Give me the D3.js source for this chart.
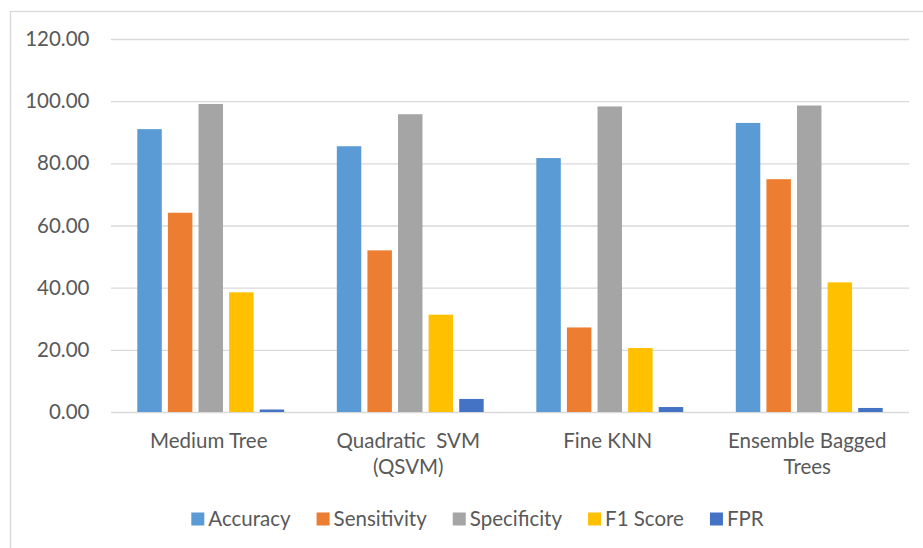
<!DOCTYPE html>
<html>
<head>
<meta charset="utf-8">
<script src="https://cdn.jsdelivr.net/npm/d3@7/dist/d3.min.js"></script>
<style>
  html, body { margin: 0; padding: 0; background: #ffffff; }
  svg { display: block; }
  text { font-family: Lato, "Open Sans", sans-serif; fill: #595959; }
</style>
</head>
<body>
<svg id="chart" width="923" height="548"></svg>
<script>
// Classifier names (each entry is one line of the wrapped axis label)
const categories = [
  ["Medium Tree"],
  ["Quadratic  SVM", "(QSVM)"],
  ["Fine KNN"],
  ["Ensemble Bagged", "Trees"]
];
const seriesNames = ["Accuracy", "Sensitivity", "Specificity", "F1 Score", "FPR"];
const seriesColors = ["#5B9BD5", "#ED7D31", "#A5A5A5", "#FFC000", "#4472C4"];

// Metric values (%) per classifier, in category order
const accuracy    = [91.0, 85.5, 81.7, 93.0];
const sensitivity = [64.1, 52.0, 27.2, 74.9];
const specificity = [99.1, 95.8, 98.3, 98.6];
const f1Score     = [38.5, 31.3, 20.6, 41.7];
const fpr         = [0.8, 4.2, 1.6, 1.3];

const yTicks = [0, 20, 40, 60, 80, 100, 120];

const seriesValues = [accuracy, sensitivity, specificity, f1Score, fpr];
const FONT_SIZE = "20.5px";

const svg = d3.select("#chart");

// Chart area frame
svg.append("rect")
  .attr("x", 10.5).attr("y", 11.5)
  .attr("width", 960).attr("height", 560)
  .attr("fill", "none").attr("stroke", "#d9d9d9").attr("stroke-width", 1.3);

const plot = { left: 111, right: 909, top: 39, bottom: 412 };

const x0 = d3.scaleBand()
  .domain(d3.range(categories.length))
  .range([plot.left, plot.right])
  .paddingInner(0).paddingOuter(0);

const x1 = d3.scaleBand()
  .domain(d3.range(seriesNames.length))
  .range([0, x0.bandwidth()])
  .paddingInner(0.2).paddingOuter(0.86);

const y = d3.scaleLinear().domain([0, 120]).range([plot.bottom, plot.top]);

// Horizontal gridlines via a left axis with full-width ticks
const yAxis = d3.axisLeft(y)
  .tickValues(yTicks)
  .tickSize(-(plot.right - plot.left))
  .tickPadding(22)
  .tickFormat(d3.format(".2f"));

const gy = svg.append("g")
  .attr("transform", `translate(${plot.left},0)`)
  .call(yAxis);
gy.select(".domain").remove();
gy.selectAll(".tick line").attr("stroke", "#d9d9d9").attr("stroke-width", 1.4);
gy.selectAll(".tick text")
  .attr("x", 89.5 - plot.left)
  .style("font-size", FONT_SIZE)
  .style("fill", "#595959")
  .style("font-family", "Lato, sans-serif");

// Bars
const groups = svg.append("g").selectAll("g")
  .data(categories.map((c, i) => i))
  .join("g")
  .attr("transform", i => `translate(${x0(i)},0)`);

groups.selectAll("rect")
  .data(i => seriesValues.map((vals, s) => ({ s, v: vals[i] })))
  .join("rect")
  .attr("x", d => x1(d.s))
  .attr("width", x1.bandwidth())
  .attr("y", d => y(d.v))
  .attr("height", d => y(0) - y(d.v))
  .attr("fill", d => seriesColors[d.s]);

// Category labels (wrapped lines)
const catLabels = svg.append("g").selectAll("text")
  .data(categories)
  .join("text")
  .attr("text-anchor", "middle")
  .attr("x", (d, i) => x0(i) + x0.bandwidth() / 2 - 2)
  .attr("y", 448)
  .style("font-size", FONT_SIZE);
catLabels.selectAll("tspan")
  .data(d => d)
  .join("tspan")
  .attr("x", function() { return this.parentNode.getAttribute("x"); })
  .attr("dy", (d, j) => j === 0 ? 0 : 26)
  .attr("xml:space", "preserve")
  .style("white-space", "pre")
  .text(d => d);

// Legend, laid out from measured label widths and centred
const legend = svg.append("g");
const sq = 13, gapText = 4, gapItem = 26;
const items = legend.selectAll("g")
  .data(seriesNames)
  .join("g");
items.append("rect")
  .attr("width", sq).attr("height", sq)
  .attr("y", 512.5)
  .attr("fill", (d, i) => seriesColors[i]);
items.append("text")
  .attr("x", sq + gapText)
  .attr("y", 526)
  .style("font-size", FONT_SIZE)
  .text(d => d);

let widths = [];
items.each(function() { widths.push(this.querySelector("text").getComputedTextLength()); });
const total = d3.sum(widths) + seriesNames.length * (sq + gapText) + (seriesNames.length - 1) * gapItem;
let cursor = 477.5 - total / 2;
items.attr("transform", (d, i) => {
  const t = `translate(${cursor},0)`;
  cursor += sq + gapText + widths[i] + gapItem;
  return t;
});
</script>
</body>
</html>
